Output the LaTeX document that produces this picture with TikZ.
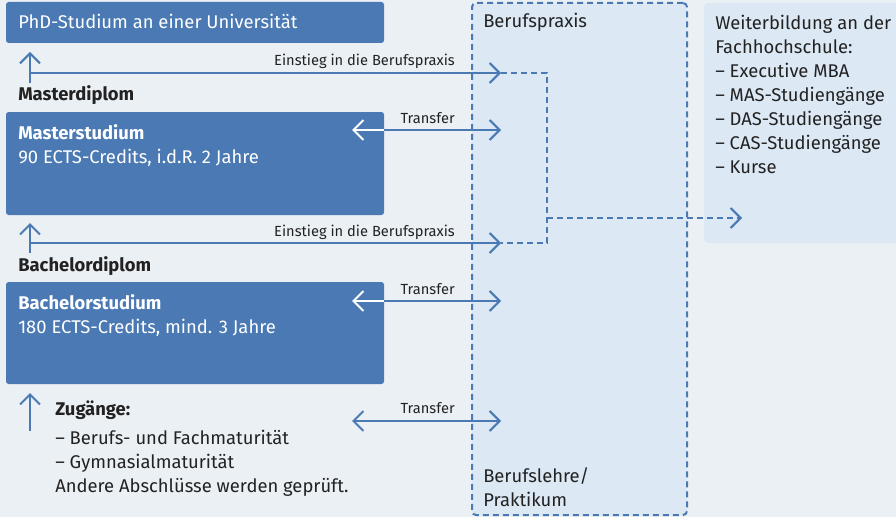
\documentclass[tikz,border=0pt]{standalone}
\usepackage{fontspec}
\setmainfont{Fira Sans}
\usetikzlibrary{positioning,arrows.meta,fit}
\definecolor{fhblue}{HTML}{4A79B3}
\definecolor{pagebg}{HTML}{EBF0F5}
\definecolor{praxisbg}{HTML}{DCE8F4}
\definecolor{inktext}{HTML}{222222}

\begin{document}
\begin{tikzpicture}[
    x=0.75pt, y=-0.75pt,
    >={Straight Barb[length=7.5pt,width=15pt]},
    every node/.style={inner sep=0pt, font=\fontsize{13.8}{18}\selectfont},
    box/.style={fill=fhblue, rounded corners=2pt},
    praxis/.style={fill=praxisbg, draw=fhblue, line width=1.5pt,
                   dash pattern=on 4.5pt off 3pt, rounded corners=3pt},
    weiter/.style={fill=praxisbg, rounded corners=3pt},
    boxtext/.style={anchor=base west, text=white},
    boxtitle/.style={boxtext, font=\fontsize{13.8}{18}\selectfont\bfseries},
    plain/.style={anchor=base west, text=inktext},
    listtext/.style={anchor=north west, align=left, text=inktext},
    diplom/.style={plain, font=\fontsize{13.8}{18}\selectfont\bfseries},
    small/.style={anchor=base east, text=inktext, font=\fontsize{11}{13}\selectfont},
    arrow/.style={->, fhblue, line width=1.5pt},
    dasharrow/.style={arrow, dash pattern=on 4.5pt off 3pt}
]
  \useasboundingbox (0,0) rectangle (896,517);
  \fill[pagebg] (0,0) rectangle (896,517);

  % Berufspraxis and Weiterbildung
  \node[praxis, fit={(472,3) (687,515)}] (praxis) {};
  \node[weiter, fit={(704,3) (902,243)}] (weiter) {};
  \node[plain] (praxislab) at (483,28) {Berufspraxis};
  \node[listtext] (lehre) at (483,467) {Berufslehre/\\Praktikum};
  \node[listtext] (weiterlab) at (715,15) {Weiterbildung an der\\Fachhochschule:\\
    – Executive MBA\\– MAS-Studiengänge\\– DAS-Studiengänge\\– CAS-Studiengänge\\– Kurse};

  % Study stages
  \node[box, fit={(6,2) (384,43)}] (phd) {};
  \node[box, fit={(6,112) (384,215)}] (master) {};
  \node[box, fit={(6,282) (384,384)}] (bachelor) {};
  \node[boxtext] (phdlab) at (18,29) {PhD-Studium an einer Universität};
  \node[boxtitle] (mtitle) at (18,139) {Masterstudium};
  \node[boxtext] (minfo) at (18,163) {90 ECTS-Credits, i.d.R. 2 Jahre};
  \node[boxtitle] (btitle) at (18,309) {Bachelorstudium};
  \node[boxtext] (binfo) at (18,333) {180 ECTS-Credits, mind. 3 Jahre};
  \node[diplom] (mdiplom) at (18,101) {Masterdiplom};
  \node[diplom] (bdiplom) at (18,271) {Bachelordiplom};
  \node[diplom] (zugang) at (55,415) {Zugänge:};
  \node[listtext] (zuglist) at (55,430) {– Berufs- und Fachmaturität\\– Gymnasialmaturität\\
    Andere Abschlüsse werden geprüft.};

  % Coordinates for connectors
  \coordinate (up1) at (30,83);   \coordinate (up1tip) at (30,52);
  \coordinate (up2) at (30,253);  \coordinate (up2tip) at (30,223);
  \coordinate (up3) at (30,431);  \coordinate (up3tip) at (30,393);
  \coordinate (ein1) at (30,73);  \coordinate (ein1end) at (501,73);
  \coordinate (ein2) at (30,243); \coordinate (ein2end) at (501,243);
  \coordinate (tr1) at (501,130); \coordinate (tr1tip) at (352,130);
  \coordinate (tr2) at (501,301); \coordinate (tr2tip) at (352,301);
  \coordinate (tr3) at (501,421); \coordinate (tr3tip) at (352,421);
  \coordinate (brtop) at (547,73); \coordinate (brbot) at (547,243);
  \coordinate (brmid) at (547,218); \coordinate (wbtip) at (742,218);

  % Arrows
  \draw[arrow] (up1) -- (up1tip);
  \draw[arrow] (up2) -- (up2tip);
  \draw[arrow] (up3) -- (up3tip);
  \draw[arrow] (ein1) -- (ein1end);
  \draw[arrow] (ein2) -- (ein2end);
  \draw[arrow] (master.east |- tr1) -- (tr1);
  \draw[arrow, white] (master.east |- tr1) -- (tr1tip);
  \draw[arrow] (bachelor.east |- tr2) -- (tr2);
  \draw[arrow, white] (bachelor.east |- tr2) -- (tr2tip);
  \draw[arrow, <->] (tr3tip) -- (tr3);
  \draw[fhblue, line width=1.5pt, dash pattern=on 4.5pt off 3pt]
    (ein1end) -- (brtop) -- (brbot) -- (ein2end);
  \draw[dasharrow] (brmid) -- (wbtip);

  % Labels
  \node[small] (ein1lab) at (455,66) {Einstieg in die Berufspraxis};
  \node[small] (ein2lab) at (455,236) {Einstieg in die Berufspraxis};
  \node[small] (tr1lab) at (455,123) {Transfer};
  \node[small] (tr2lab) at (455,294) {Transfer};
  \node[small] (tr3lab) at (455,413) {Transfer};
\end{tikzpicture}
\end{document}
